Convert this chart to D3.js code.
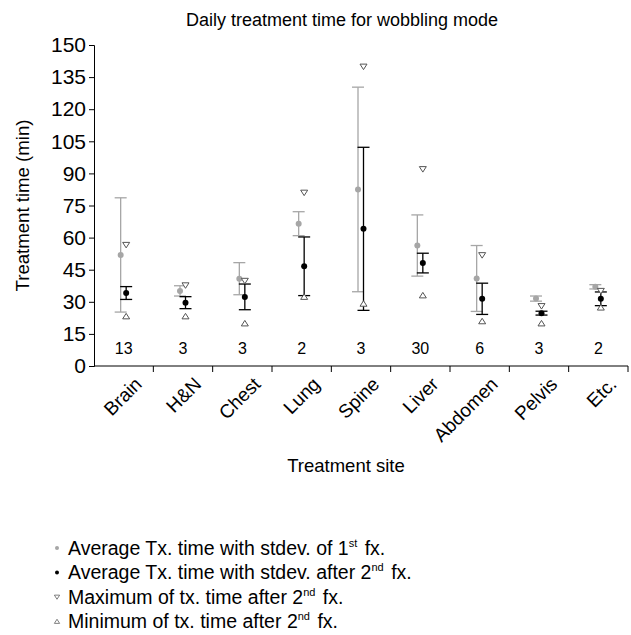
<!DOCTYPE html>
<html>
<head>
<meta charset="utf-8">
<script src="https://cdn.jsdelivr.net/npm/d3@7"></script>
<style>
  body { margin: 0; background: #fff; }
  text { font-family: "Liberation Sans", Arial, sans-serif; }
</style>
</head>
<body>
<div id="chart"></div>
<script>
// Daily treatment time per treatment site (wobbling mode)

const sites = ["Brain", "H&N", "Chest", "Lung", "Spine", "Liver", "Abdomen", "Pelvis", "Etc."];
const counts = [13, 3, 3, 2, 3, 30, 6, 3, 2];

// 1st fraction: mean and stdev
const firstMean = [51.9, 35.1, 40.8, 66.5, 82.5, 56.3, 40.9, 31.5, 37.0];
const firstSd = [26.7, 2.4, 7.5, 5.6, 47.8, 14.3, 15.4, 1.2, 1.0];

// after 2nd fraction: mean and stdev
const secondMean = [34.1, 29.6, 32.3, 46.6, 64.1, 48.1, 31.4, 24.7, 31.4];
const secondSd = [3.0, 2.8, 6.0, 13.7, 38.1, 4.6, 7.3, 0.9, 3.2];

// after 2nd fraction: max and min
const maxTime = [56.6, 37.7, 39.8, 81.0, 139.9, 92.0, 51.8, 28.0, 35.1];
const minTime = [23.2, 23.2, 19.9, 32.3, 29.1, 33.0, 20.9, 19.9, 27.3];

const yTicks = [0, 15, 30, 45, 60, 75, 90, 105, 120, 135, 150];

const legendLabels = [
    ["Average Tx. time with stdev. of 1", "st", " fx."],
    ["Average Tx. time with stdev. after 2", "nd", " fx."],
    ["Maximum of tx. time after 2", "nd", " fx."],
    ["Minimum of tx. time after 2", "nd", " fx."]
];

function createVisualization() {
    const svgWidth = 631;
    const svgHeight = 635;
    const margin = { top: 45, right: 3, bottom: 269, left: 94 };
    const width = svgWidth - margin.left - margin.right;
    const height = svgHeight - margin.top - margin.bottom;

    const root = d3.select("#chart")
        .append("svg")
        .attr("width", svgWidth)
        .attr("height", svgHeight);

    const svg = root.append("g")
        .attr("transform", `translate(${margin.left},${margin.top})`);

    const gray = "#a6a6a6";
    const triColor = "#555";

    // Scales
    const xScale = d3.scaleBand()
        .domain(sites)
        .range([0, width]);

    const yScale = d3.scaleLinear()
        .domain([0, 150])
        .range([height, 0]);

    // Axes
    const yAxis = svg.append("g")
        .call(d3.axisLeft(yScale).tickValues(yTicks).tickSize(5).tickPadding(3));
    yAxis.selectAll("text").attr("font-size", 21).attr("fill", "#000")
        .attr("font-family", "'Liberation Sans', Arial, sans-serif");
    yAxis.selectAll("line, path").attr("stroke", "#000");

    // x axis ticks sit at category boundaries
    const xAxis = svg.append("g")
        .attr("transform", `translate(0, ${height})`);
    xAxis.append("line")
        .attr("x1", 0).attr("x2", width)
        .attr("stroke", "#000");
    xAxis.selectAll(".tick")
        .data(sites)
        .enter().append("line")
        .attr("x1", d => xScale(d) + xScale.bandwidth())
        .attr("x2", d => xScale(d) + xScale.bandwidth())
        .attr("y1", 0).attr("y2", 6)
        .attr("stroke", "#000");
    xAxis.selectAll(".lbl")
        .data(sites)
        .enter().append("text")
        .attr("transform", d => `translate(${xScale(d) + xScale.bandwidth() / 2 + 10}, 10) rotate(-45)`)
        .attr("text-anchor", "end")
        .attr("dy", "0.7em")
        .attr("font-size", 19)
        .text(d => d);

    const cx = d => xScale(d) + xScale.bandwidth() / 2;

    // error bars
    function errorBars(means, sds, dx, color, width) {
        const g = svg.append("g").attr("stroke", color).attr("stroke-width", width);
        sites.forEach((s, i) => {
            const x = cx(s) + dx;
            const top = yScale(means[i] + sds[i]);
            const bot = yScale(means[i] - sds[i]);
            g.append("line").attr("x1", x).attr("x2", x).attr("y1", top).attr("y2", bot);
            g.append("line").attr("x1", x - 6).attr("x2", x + 6).attr("y1", top).attr("y2", top);
            g.append("line").attr("x1", x - 6).attr("x2", x + 6).attr("y1", bot).attr("y2", bot);
        });
        svg.append("g").selectAll("circle")
            .data(means)
            .enter().append("circle")
            .attr("cx", (d, i) => cx(sites[i]) + dx)
            .attr("cy", d => yScale(d))
            .attr("r", 3)
            .attr("fill", color);
    }

    errorBars(firstMean, firstSd, -3, gray, 1.3);
    errorBars(secondMean, secondSd, 2.5, "#000", 1.3);

    // triangles
    const triDown = "M-3.5,-2.5L3.5,-2.5L0,3Z";
    const triUp = "M-3.5,2.5L3.5,2.5L0,-3Z";
    svg.append("g").selectAll("path")
        .data(maxTime)
        .enter().append("path")
        .attr("d", triDown)
        .attr("transform", (d, i) => `translate(${cx(sites[i]) + 2.5},${yScale(d)})`)
        .attr("fill", "#fff").attr("stroke", triColor).attr("stroke-width", 1);
    svg.append("g").selectAll("path")
        .data(minTime)
        .enter().append("path")
        .attr("d", triUp)
        .attr("transform", (d, i) => `translate(${cx(sites[i]) + 2.5},${yScale(d)})`)
        .attr("fill", "#fff").attr("stroke", triColor).attr("stroke-width", 1);

    // case counts
    svg.append("g").selectAll("text")
        .data(counts)
        .enter().append("text")
        .attr("x", (d, i) => cx(sites[i]))
        .attr("y", yScale(8))
        .attr("dy", "0.35em")
        .attr("text-anchor", "middle")
        .attr("font-size", 16)
        .text(d => d);

    // Title and axis labels
    root.append("text")
        .attr("x", margin.left + width / 2 - 19)
        .attr("y", 26)
        .attr("text-anchor", "middle")
        .attr("font-size", 18)
        .text("Daily treatment time for wobbling mode");

    root.append("text")
        .attr("transform", `translate(29, ${margin.top + height / 2}) rotate(-90)`)
        .attr("text-anchor", "middle")
        .attr("font-size", 18.6)
        .text("Treatment time (min)");

    root.append("text")
        .attr("x", margin.left + width / 2 - 15)
        .attr("y", 472)
        .attr("text-anchor", "middle")
        .attr("font-size", 18.5)
        .text("Treatment site");

    // Legend
    const legend = root.append("g").attr("transform", "translate(57, 548)");
    legendLabels.forEach((parts, i) => {
        const row = legend.append("g").attr("transform", `translate(0, ${i * 24.5})`);
        if (i < 2) {
            row.append("circle").attr("r", 2).attr("fill", i === 0 ? gray : "#000");
        } else {
            row.append("path").attr("d", i === 2 ? triDown : triUp)
                .attr("transform", "scale(0.75)")
                .attr("fill", "#fff").attr("stroke", triColor);
        }
        const t = row.append("text")
            .attr("x", 11)
            .attr("dy", "0.35em")
            .attr("font-size", 19.5);
        t.append("tspan").text(parts[0]);
        t.append("tspan").attr("dy", -8).attr("font-size", 11).text(parts[1]);
        t.append("tspan").attr("dy", 8).attr("dx", 2).text(parts[2]);
    });
}

createVisualization();
</script>
</body>
</html>
